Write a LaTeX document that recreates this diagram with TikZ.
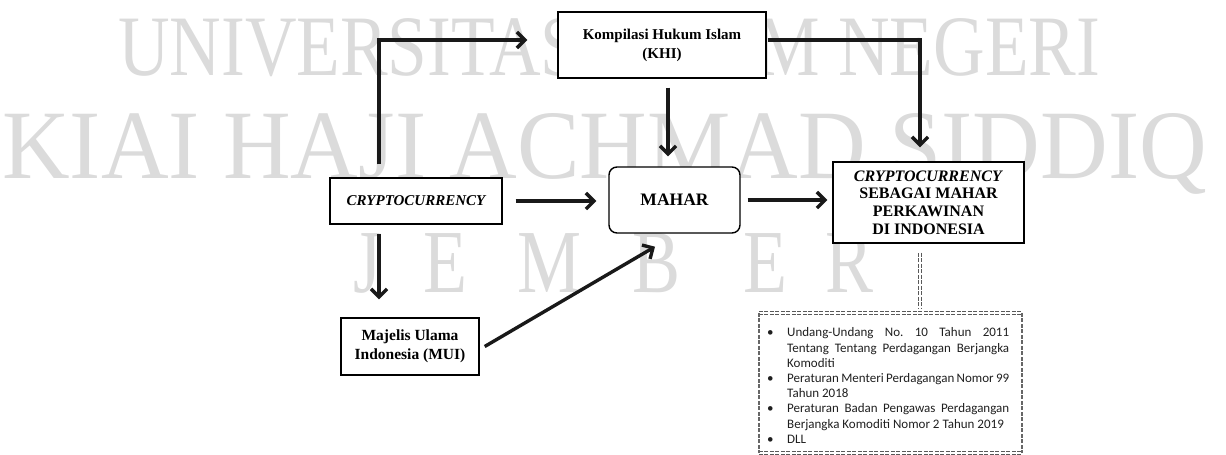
\documentclass[tikz,border=0pt]{standalone}
\usepackage{fontspec}
\setmainfont{Liberation Serif}
\newfontfamily\lawfont{Carlito}
\usetikzlibrary{arrows.meta}
\begin{document}
\frenchspacing
\begin{tikzpicture}[x=1pt,y=-1pt,
  box/.style={draw=black,line width=1.4pt,fill=white,align=center,inner sep=0pt},
  arr/.style={line width=3.4pt,draw=black!90,-{Straight Barb[length=8pt,width=16pt]}},
  wm/.style={text=black!14,inner sep=0pt,anchor=base west,font=\fontsize{80}{80}\selectfont},
  wml/.style={text=black!14,inner sep=0pt,anchor=base,font=\fontsize{90}{90}\selectfont},
  dbl/.style={draw=black!65,double=white,double distance=2pt,line width=1.2pt,dash pattern=on 4pt off 1.5pt},
  sdash/.style={draw=black!60,line width=2.2pt,dash pattern=on 4pt off 1.5pt}]
\useasboundingbox (0,0) rectangle (1226,455);
% watermark
\node[wm] (wm1) at (118,75) {\resizebox{982pt}{57pt}{UNIVERSITAS ISLAM NEGERI}};
\node[wm] (wm2) at (2,178) {\resizebox{1205pt}{65pt}{KIAI HAJI ACHMAD SIDDIQ}};
\node[wml] (wmJ) at (368,292) {\scalebox{0.8}[1]{J}};
\node[wml] (wmE1) at (445,292) {\scalebox{0.8}[1]{E}};
\node[wml] (wmM) at (550,292) {\scalebox{0.8}[1]{M}};
\node[wml] (wmB) at (657,292) {\scalebox{0.8}[1]{B}};
\node[wml] (wmE2) at (765,292) {\scalebox{0.8}[1]{E}};
\node[wml] (wmR) at (850,292) {\scalebox{0.8}[1]{R}};
% boxes
\node[box,minimum width=208pt,minimum height=66pt,font=\bfseries\fontsize{15}{19}\selectfont] (khi) at (662,45) {Kompilasi Hukum Islam\\(KHI)};
\node[box,minimum width=172pt,minimum height=46pt,font=\bfseries\itshape\fontsize{15}{18}\selectfont] (crypto) at (416,201) {CRYPTOCURRENCY};
\node[box,rounded corners=8pt,minimum width=131pt,minimum height=66pt,font=\bfseries\fontsize{17.5}{20}\selectfont] (mahar) at (674.5,200) {MAHAR};
\node[box,minimum width=191pt,minimum height=81pt,font=\bfseries\fontsize{16}{17.7}\selectfont] (result) at (928.5,202.5) {\textit{CRYPTOCURRENCY}\\SEBAGAI MAHAR\\PERKAWINAN\\DI INDONESIA};
\node[box,minimum width=138pt,minimum height=57pt,font=\bfseries\fontsize{15.5}{19}\selectfont] (mui) at (410,346.5) {Majelis Ulama\\Indonesia (MUI)};
% law box
\node[minimum width=263pt,minimum height=140pt,inner sep=0pt] (law) at (890.5,383) {};
\draw[dbl] (law.north west) -- (law.north east);
\draw[dbl] (law.south west) -- (law.south east);
\draw[sdash] (law.north west) -- (law.south west);
\draw[sdash] (law.north east) -- (law.south east);
\node[anchor=north west,inner sep=0pt,text=black!88,font=\lawfont\fontsize{13}{15.2}\selectfont] (lawtext) at (767,326) {\begin{tabular}{@{}p{20pt}@{}l@{}}
\textbullet & \makebox[222pt][s]{Undang-Undang No. 10 Tahun 2011}\\
 & \makebox[222pt][s]{Tentang Tentang Perdagangan Berjangka}\\
 & Komoditi\\
\textbullet & \makebox[222pt][s]{Peraturan Menteri Perdagangan Nomor 99}\\
 & Tahun 2018\\
\textbullet & \makebox[222pt][s]{Peraturan Badan Pengawas Perdagangan}\\
 & Berjangka Komoditi Nomor 2 Tahun 2019\\
\textbullet & DLL
\end{tabular}};
% connectors
\coordinate (a1) at ([xshift=-37pt,yshift=13pt]crypto.north);
\coordinate (a2) at ([xshift=-30pt,yshift=5pt]khi.west);
\draw[arr] (a1) |- (a2);
\coordinate (b1) at ([xshift=1pt,yshift=5pt]khi.east);
\coordinate (b2) at ([xshift=-8.5pt,yshift=14pt]result.north);
\draw[arr] (b1) -| (b2);
\coordinate (c1) at ([xshift=6pt,yshift=-9pt]khi.south);
\coordinate (c2) at ([yshift=10pt]mahar.north);
\draw[arr] (c1) -- (c1 |- c2);
\coordinate (e1) at ([xshift=13pt]crypto.east);
\coordinate (e2) at ([xshift=-12pt]mahar.west);
\draw[arr] (e1) -- (e2 |- e1);
\coordinate (f1) at ([xshift=7pt]mahar.east);
\coordinate (f2) at ([xshift=-5pt]result.west);
\draw[arr] (f1) -- (f2 |- f1);
\coordinate (g1) at ([xshift=-37pt,yshift=-9pt]crypto.south);
\coordinate (g2) at ([yshift=18pt]mui.north);
\draw[arr] (g1) -- (g1 |- g2);
\coordinate (h1) at ([xshift=5pt]mui.east);
\coordinate (h2) at ([xshift=-19.5pt,yshift=-13pt]mahar.south);
\draw[arr] (h1) -- (h2);
\coordinate (d1) at ([xshift=-8.5pt,yshift=-9pt]result.south);
\coordinate (d2) at ([yshift=5pt]d1 |- law.north);
\draw[dbl] (d1) -- (d2);
\end{tikzpicture}
\end{document}
